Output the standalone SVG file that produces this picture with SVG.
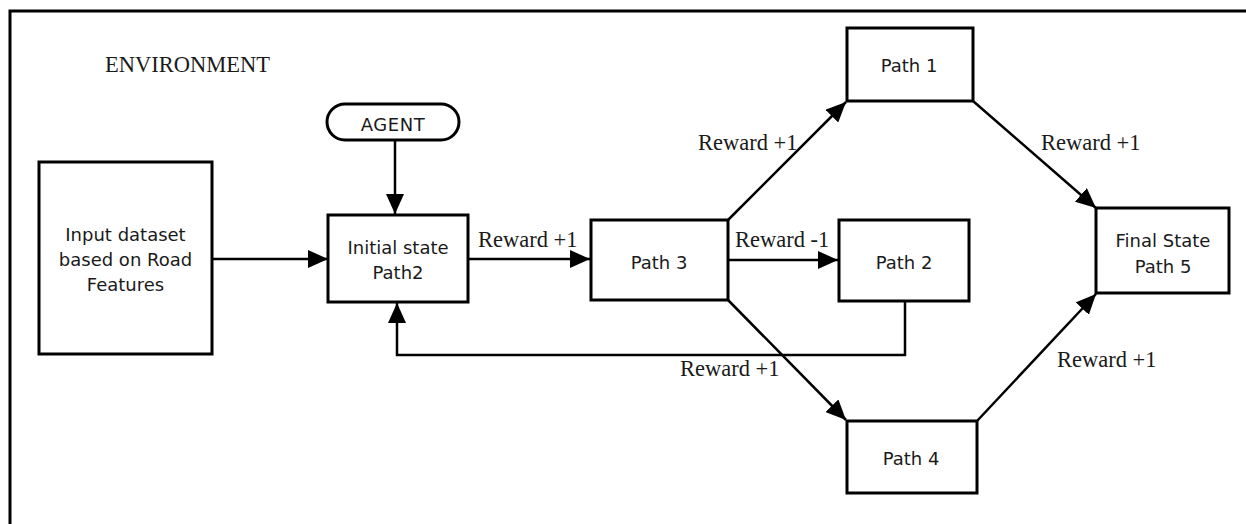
<svg xmlns="http://www.w3.org/2000/svg" width="1246" height="524" viewBox="0 0 1246 524">
<style>
.box{fill:#fff;stroke:#000;stroke-width:3}
.ln{fill:none;stroke:#000;stroke-width:2.5}
.t{font-family:"DejaVu Sans",Verdana,sans-serif;font-size:18px;fill:#1a1a1a;text-anchor:middle}
.s{font-family:"Liberation Serif","Times New Roman",serif;font-size:22.5px;fill:#1a1a1a}
</style>
<defs>
<marker id="ah" markerUnits="userSpaceOnUse" markerWidth="22" markerHeight="18" refX="20" refY="9" orient="auto">
<path d="M0,0 L20,9 L0,18 Z" fill="#000"/>
</marker>
</defs>
<rect width="1246" height="524" fill="#fff"/>
<g id="frame">
<path d="M10,524 L10,11 L1246,11" fill="none" stroke="#000" stroke-width="3"/>
<text class="s" x="105" y="72">ENVIRONMENT</text>
</g>
<g id="connectors">
<line class="ln" x1="395" y1="140" x2="395" y2="214" marker-end="url(#ah)"/>
<line class="ln" x1="212" y1="259" x2="328" y2="259" marker-end="url(#ah)"/>
<line class="ln" x1="468" y1="259" x2="590" y2="259" marker-end="url(#ah)"/>
<line class="ln" x1="728" y1="260" x2="838" y2="260" marker-end="url(#ah)"/>
<polyline class="ln" points="905,301 905,355 397,355 397,303" marker-end="url(#ah)"/>
<line class="ln" x1="728" y1="220" x2="846" y2="102" marker-end="url(#ah)"/>
<line class="ln" x1="973" y1="101" x2="1096" y2="208" marker-end="url(#ah)"/>
<line class="ln" x1="728" y1="300" x2="846" y2="420" marker-end="url(#ah)"/>
<line class="ln" x1="977" y1="421" x2="1096" y2="294" marker-end="url(#ah)"/>
<text class="s" x="478" y="247">Reward +1</text>
<text class="s" x="735" y="247">Reward -1</text>
<text class="s" x="698" y="150">Reward +1</text>
<text class="s" x="1041" y="150">Reward +1</text>
<text class="s" x="680" y="376">Reward +1</text>
<text class="s" x="1057" y="367">Reward +1</text>
</g>
<g id="agent">
<rect class="box" x="327" y="104" width="132" height="36" rx="18" ry="18" stroke-width="2.5"/>
<text class="t" x="393" y="131" letter-spacing="0.5">AGENT</text>
</g>
<g id="input">
<rect class="box" x="39" y="162" width="173" height="192"/>
<text class="t" x="125.5" y="241">Input dataset</text>
<text class="t" x="125.5" y="266">based on Road</text>
<text class="t" x="125.5" y="291">Features</text>
</g>
<g id="initial">
<rect class="box" x="328" y="215" width="140" height="87"/>
<text class="t" x="398" y="254">Initial state</text>
<text class="t" x="398" y="279">Path2</text>
</g>
<g id="path3">
<rect class="box" x="591" y="220" width="137" height="80"/>
<text class="t" x="659" y="269">Path 3</text>
</g>
<g id="path2">
<rect class="box" x="839" y="220" width="130" height="81"/>
<text class="t" x="904" y="269">Path 2</text>
</g>
<g id="path1">
<rect class="box" x="847" y="28" width="126" height="73"/>
<text class="t" x="909" y="72">Path 1</text>
</g>
<g id="path4">
<rect class="box" x="847" y="421" width="130" height="72"/>
<text class="t" x="911" y="465">Path 4</text>
</g>
<g id="final">
<rect class="box" x="1096" y="208" width="133" height="85"/>
<text class="t" x="1163" y="247">Final State</text>
<text class="t" x="1163" y="273">Path 5</text>
</g>
</svg>
